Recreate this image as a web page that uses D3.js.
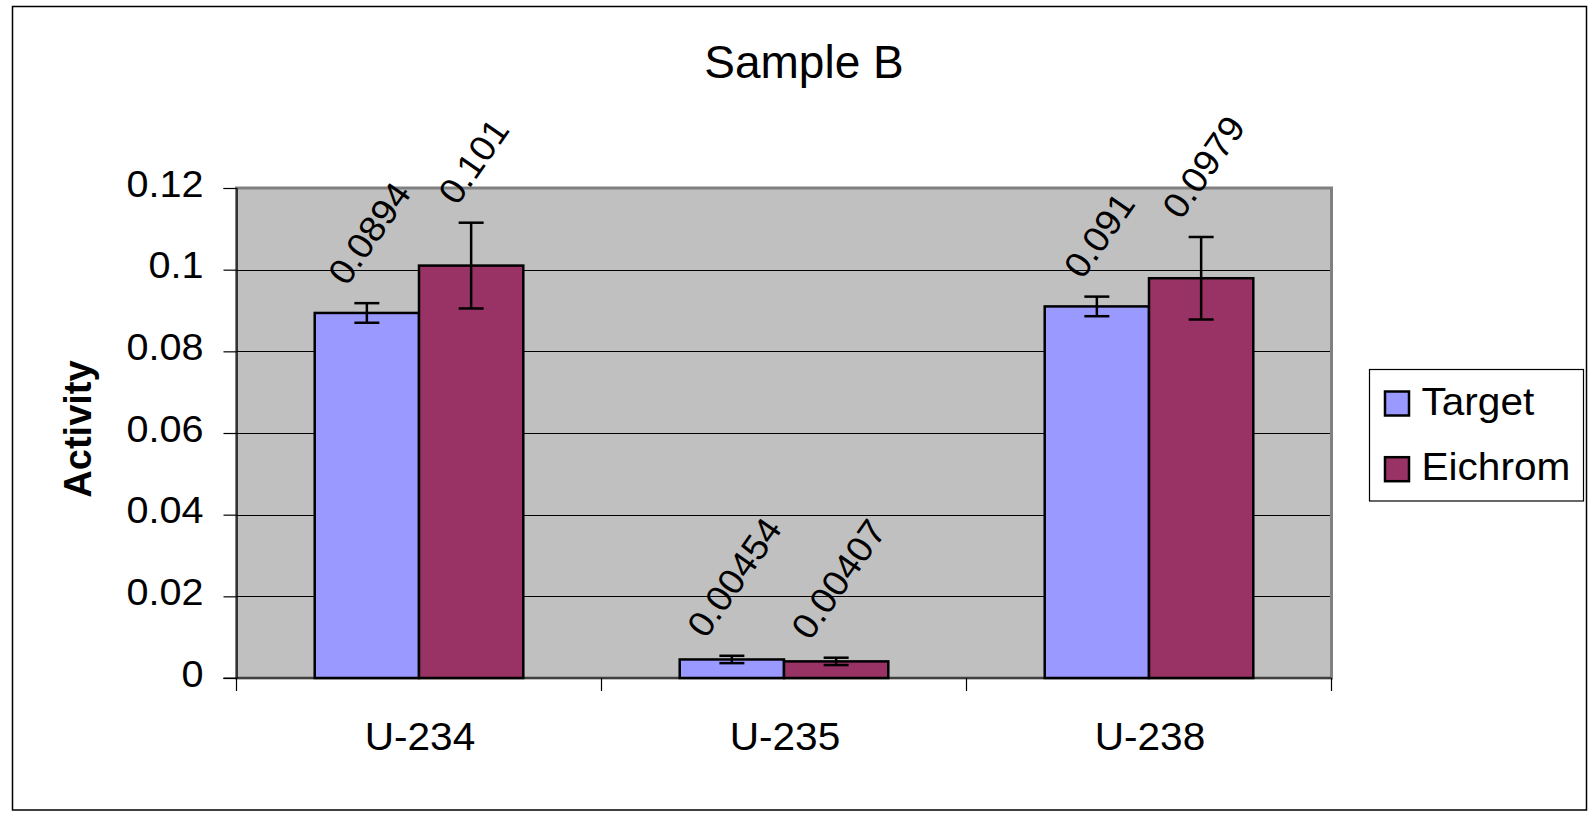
<!DOCTYPE html>
<html>
<head>
<meta charset="utf-8">
<script src="https://cdn.jsdelivr.net/npm/d3@7/dist/d3.min.js"></script>
<style>
  html, body { margin: 0; padding: 0; background: #fff; }
  svg { display: block; }
  text { font-family: "Liberation Sans", Arial, Helvetica, sans-serif; fill: #000; }
</style>
</head>
<body>
<svg id="chart" width="1592" height="817"></svg>
<script>
const titleText = "Sample B";
const yAxisTitle = "Activity";
const categories = ["U-234", "U-235", "U-238"];
const seriesNames = ["Target", "Eichrom"];
const seriesColors = ["#9999FF", "#993366"];
const targetValues = [0.0894, 0.00454, 0.091];
const eichromValues = [0.101, 0.00407, 0.0979];
const targetErrors = [0.0024, 0.0009, 0.0024];
const eichromErrors = [0.0105, 0.0009, 0.0101];
const yTicks = [0, 0.02, 0.04, 0.06, 0.08, 0.1, 0.12];

const seriesValues = [targetValues, eichromValues];
const seriesErrors = [targetErrors, eichromErrors];

const svg = d3.select("#chart");
const plot = { left: 236.5, right: 1331.5, top: 188, bottom: 678 };

// stretch text horizontally to mimic the wider rendering of the original
function stretch(sel, k) {
  sel.each(function () {
    const n = this;
    const L = n.getComputedTextLength();
    d3.select(n).attr("textLength", L * k).attr("lengthAdjust", "spacingAndGlyphs");
  });
}

// outer chart border
svg.append("rect")
  .attr("x", 12.5).attr("y", 6.5)
  .attr("width", 1574).attr("height", 803.5)
  .attr("fill", "#fff").attr("stroke", "#000").attr("stroke-width", 1.5);

const x0 = d3.scaleBand().domain(categories).range([plot.left, plot.right]).padding(0);
const x1 = d3.scaleBand().domain(seriesNames).range([0, x0.bandwidth()])
  .paddingInner(0).paddingOuter(0.75);
const y = d3.scaleLinear().domain([0, 0.12]).range([plot.bottom, plot.top]);

// plot area
svg.append("rect")
  .attr("x", plot.left).attr("y", plot.top)
  .attr("width", plot.right - plot.left).attr("height", plot.bottom - plot.top)
  .attr("fill", "#C0C0C0").attr("stroke", "#808080").attr("stroke-width", 3);

// gridlines
svg.append("g").selectAll("line")
  .data(yTicks.filter(t => t > 0 && t < 0.12))
  .join("line")
  .attr("x1", plot.left).attr("x2", plot.right - 1.5)
  .attr("y1", d => Math.round(y(d)) + 0.5).attr("y2", d => Math.round(y(d)) + 0.5)
  .attr("stroke", "#000").attr("stroke-width", 1);

// Y axis
const yAxis = d3.axisLeft(y).tickValues(yTicks).tickSize(13).tickPadding(20)
  .tickFormat(d => String(d));
const gy = svg.append("g").attr("transform", `translate(${plot.left},0)`).call(yAxis);
gy.select(".domain").attr("stroke", "#000").attr("stroke-width", 1.2);
gy.selectAll(".tick line").attr("stroke", "#000").attr("stroke-width", 1.2);
gy.selectAll(".tick text")
  .attr("font-size", 36).attr("dy", null).attr("y", 8)
  .style("font-family", '"Liberation Sans", Arial, sans-serif').attr("fill", "#000");
stretch(gy.selectAll(".tick text"), 1.1);

// X axis baseline and category separators
svg.append("line")
  .attr("x1", plot.left - 13).attr("x2", plot.right)
  .attr("y1", plot.bottom).attr("y2", plot.bottom)
  .attr("stroke", "#000").attr("stroke-width", 1.2);
const sepX = categories.map(c => x0(c)).concat([x0(categories[categories.length - 1]) + x0.bandwidth()]);
svg.append("g").selectAll("line").data(sepX).join("line")
  .attr("x1", d => d).attr("x2", d => d)
  .attr("y1", plot.bottom).attr("y2", plot.bottom + 13)
  .attr("stroke", "#000").attr("stroke-width", 1.2);

// category labels
const catLabels = svg.append("g").selectAll("text").data(categories).join("text")
  .attr("x", d => x0(d) + x0.bandwidth() / 2 + 1)
  .attr("y", 750)
  .attr("text-anchor", "middle")
  .attr("font-size", 39)
  .text(d => d);
stretch(catLabels, 1.04);

// bars
const barData = [];
categories.forEach((c, i) => {
  seriesNames.forEach((s, j) => {
    barData.push({ cat: c, series: s, value: seriesValues[j][i], err: seriesErrors[j][i], color: seriesColors[j] });
  });
});

svg.append("g").selectAll("rect").data(barData).join("rect")
  .attr("x", d => x0(d.cat) + x1(d.series))
  .attr("y", d => y(d.value))
  .attr("width", x1.bandwidth())
  .attr("height", d => y(0) - y(d.value))
  .attr("fill", d => d.color)
  .attr("stroke", "#000").attr("stroke-width", 2.5);

// error bars
const capW = 25;
const eg = svg.append("g").attr("stroke", "#000").attr("stroke-width", 2.5);
barData.forEach(d => {
  const cx = x0(d.cat) + x1(d.series) + x1.bandwidth() / 2;
  const yt = y(d.value + d.err), yb = y(d.value - d.err);
  eg.append("line").attr("x1", cx).attr("x2", cx).attr("y1", yt).attr("y2", yb);
  eg.append("line").attr("x1", cx - capW / 2).attr("x2", cx + capW / 2).attr("y1", yt).attr("y2", yt);
  eg.append("line").attr("x1", cx - capW / 2).attr("x2", cx + capW / 2).attr("y1", yb).attr("y2", yb);
});

// data labels, rotated
const angle = 55;
const rad = angle * Math.PI / 180;
const labelFont = 36;
const lg = svg.append("g");
barData.forEach(d => {
  const cx = x0(d.cat) + x1(d.series) + x1.bandwidth() / 2;
  const t = lg.append("text")
    .attr("font-size", labelFont)
    .attr("text-anchor", "middle")
    .text(String(d.value));
  const L = t.node().getComputedTextLength() * 1.04;
  t.attr("textLength", L).attr("lengthAdjust", "spacingAndGlyphs");
  const h = 0.72 * labelFont;
  const bboxH = L * Math.sin(rad) + h * Math.cos(rad);
  const bottom = y(d.value + d.err) - 16;
  const cy = bottom - bboxH / 2;
  t.attr("transform", `translate(${cx + 2},${cy}) rotate(${-angle})`)
   .attr("dy", 0.36 * labelFont);
});

// title
svg.append("text")
  .attr("x", 804).attr("y", 78)
  .attr("text-anchor", "middle")
  .attr("font-size", 46)
  .text(titleText);

// y axis title
svg.append("text")
  .attr("transform", `translate(91,429) rotate(-90)`)
  .attr("text-anchor", "middle")
  .attr("font-size", 38)
  .attr("font-weight", "bold")
  .text(yAxisTitle);

// legend
const legend = { x: 1369.5, y: 369.5, w: 214, h: 131.5 };
svg.append("rect")
  .attr("x", legend.x).attr("y", legend.y)
  .attr("width", legend.w).attr("height", legend.h)
  .attr("fill", "#fff").attr("stroke", "#000").attr("stroke-width", 1.2);
const rowY = [403.5, 469.2];
const lgItems = svg.append("g").selectAll("g").data(seriesNames).join("g")
  .attr("transform", (d, i) => `translate(${legend.x},${rowY[i]})`);
lgItems.append("rect")
  .attr("x", 15.5).attr("y", -12)
  .attr("width", 24).attr("height", 24)
  .attr("fill", (d, i) => seriesColors[i])
  .attr("stroke", "#000").attr("stroke-width", 2.5);
const lgText = lgItems.append("text")
  .attr("x", 52).attr("y", 11)
  .attr("font-size", 39)
  .text(d => d);
stretch(lgText, 1.04);
</script>
</body>
</html>
